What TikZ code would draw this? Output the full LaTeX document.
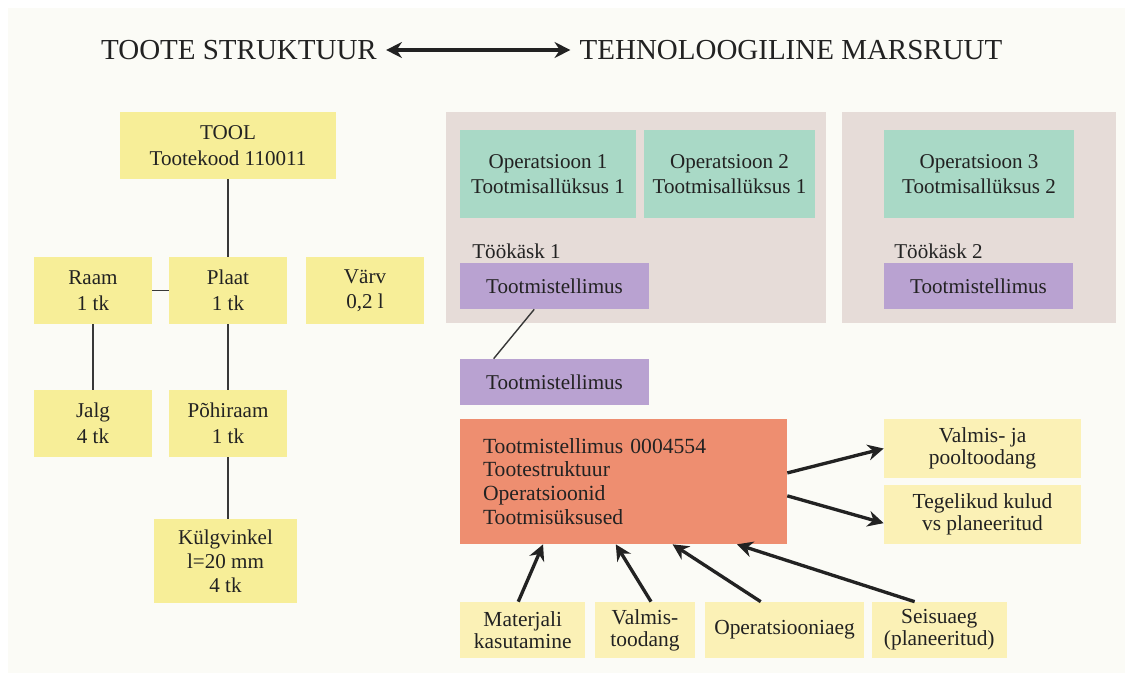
\documentclass[tikz,border=0pt]{standalone}
\usepackage{fontspec}
\setmainfont{Liberation Serif}
\usetikzlibrary{arrows.meta}
\definecolor{bgpaper}{HTML}{FBFBF6}
\definecolor{treeyellow}{HTML}{F7EE98}
\definecolor{paleyellow}{HTML}{FBF1B6}
\definecolor{panelgray}{HTML}{E6DCD8}
\definecolor{opteal}{HTML}{A9D9C6}
\definecolor{ordpurple}{HTML}{B9A2D1}
\definecolor{ordorange}{HTML}{EE8E70}
\definecolor{inkdark}{HTML}{222222}
\tikzset{
  every node/.style={text=inkdark, font=\fontsize{12}{14.5}\selectfont},
  tbox/.style={fill=treeyellow, align=center, inner xsep=2pt},
  lbox/.style={fill=paleyellow, align=center, inner xsep=2pt,
    font=\fontsize{12.2}{12.6}\selectfont},
  opbox/.style={fill=opteal, align=center, inner xsep=2pt,
    minimum height=1.76cm},
  tellbox/.style={fill=ordpurple, minimum width=3.78cm, minimum height=0.92cm},
  link/.style={draw=inkdark!90, line width=0.8pt},
  flow/.style={draw=inkdark, line width=1.9pt,
    -{Stealth[length=9pt,width=9pt]}},
}
\begin{document}
\begin{tikzpicture}[x=0.02cm, y=-0.02cm]
  \useasboundingbox (0,0) rectangle (1125,673);
  \fill[white] (0,0) rectangle (1125,673);
  \fill[bgpaper] (8,8) rectangle (1125,673);

  % heading
  \node[font=\fontsize{16.5}{18}\selectfont] (struct) at (239,50) {TOOTE STRUKTUUR};
  \node[font=\fontsize{16.5}{18}\selectfont] (route) at (791,50) {TEHNOLOOGILINE MARSRUUT};
  \draw[draw=inkdark, line width=1.9pt,
    {Stealth[length=9pt,width=9pt]}-{Stealth[length=9pt,width=9pt]}]
    ([xshift=0.06cm]struct.east) -- ([xshift=-0.06cm]route.west);

  % product structure
  \node[tbox, minimum width=4.34cm, minimum height=1.34cm] (tool) at (228,145.5)
    {TOOL\\Tootekood 110011};
  \node[tbox, minimum width=2.36cm, minimum height=1.34cm] (raam) at (93,290.5)
    {Raam\\1 tk};
  \node[tbox, minimum width=2.36cm, minimum height=1.34cm] (plaat) at (228,290.5)
    {Plaat\\1 tk};
  \node[tbox, minimum width=2.36cm, minimum height=1.34cm] (varv) at (365,290.5)
    {Värv\\0,2 l};
  \node[tbox, minimum width=2.36cm, minimum height=1.34cm] (jalg) at (93,423.5)
    {Jalg\\4 tk};
  \node[tbox, minimum width=2.38cm, minimum height=1.34cm] (pohiraam) at (228,423.5)
    {Põhiraam\\1 tk};
  \node[tbox, minimum width=2.86cm, minimum height=1.68cm,
    font=\fontsize{12}{13.6}\selectfont] (kulgvinkel) at (225.5,561)
    {Külgvinkel\\l=20 mm\\4 tk};

  \draw[link] (tool.south) -- (plaat.north);
  \draw[link] (raam.east) -- (plaat.west);
  \draw[link] (raam.south) -- (jalg.north);
  \draw[link] (plaat.south) -- (pohiraam.north);
  \draw[link] (pohiraam.south) -- (pohiraam.south |- kulgvinkel.north);

  % routing panels
  \fill[panelgray] (446,112) rectangle (826,323);
  \fill[panelgray] (842,112) rectangle (1116,323);

  \node[opbox, minimum width=3.52cm] (op1) at (548,174)
    {Operatsioon 1\\Tootmisallüksus 1};
  \node[opbox, minimum width=3.42cm] (op2) at (729.5,174)
    {Operatsioon 2\\Tootmisallüksus 1};
  \node[opbox, minimum width=3.8cm] (op3) at (979,174)
    {Operatsioon 3\\Tootmisallüksus 2};

  \node[anchor=west, inner sep=0pt] (task1) at (472,251) {Töökäsk 1};
  \node[tellbox] (tell1) at (554.5,286) {Tootmistellimus};
  \node[anchor=west, inner sep=0pt] (task2) at (894,251) {Töökäsk 2};
  \node[tellbox] (tell2) at (978.5,286) {Tootmistellimus};
  \node[tellbox] (tell3) at (554.5,382) {Tootmistellimus};
  \draw[link] (tell1.229) -- (tell3.159);

  % production order
  \node[fill=ordorange, minimum width=6.54cm, minimum height=2.5cm,
    text width=5.62cm, inner xsep=0.46cm, align=left,
    font=\fontsize{12.3}{13.6}\selectfont] (order) at (623.5,481.5)
    {Tootmistellimus 0004554\\Tootestruktuur\\Operatsioonid\\Tootmisüksused};

  \node[lbox, minimum width=3.94cm, minimum height=1.18cm] (pool) at (982.5,448.5)
    {Valmis- ja\\pooltoodang};
  \node[lbox, minimum width=3.94cm, minimum height=1.18cm] (kulud) at (982.5,514.5)
    {Tegelikud kulud\\vs planeeritud};
  \draw[flow] (order.3) -- (pool.west);
  \draw[flow] (order.-5.5) -- (kulud.185);

  \node[lbox, minimum width=2.51cm, minimum height=1.12cm] (materjal) at (522.75,630)
    {Materjali\\kasutamine};
  \node[lbox, minimum width=2.0cm, minimum height=1.12cm] (toodang) at (645,630)
    {Valmis-\\toodang};
  \node[lbox, minimum width=3.18cm, minimum height=1.12cm] (opaeg) at (784.5,630)
    {Operatsiooniaeg};
  \node[lbox, minimum width=2.71cm, minimum height=1.12cm] (seisuaeg) at (939.25,630)
    {Seisuaeg\\(planeeritud)};
  \draw[flow] (materjal.99) -- (order.218);
  \draw[flow] (toodang.78) -- (order.263);
  \draw[flow] (opaeg.130) -- (order.-52);
  \draw[flow] (seisuaeg.131) -- (order.-29);
\end{tikzpicture}
\end{document}
